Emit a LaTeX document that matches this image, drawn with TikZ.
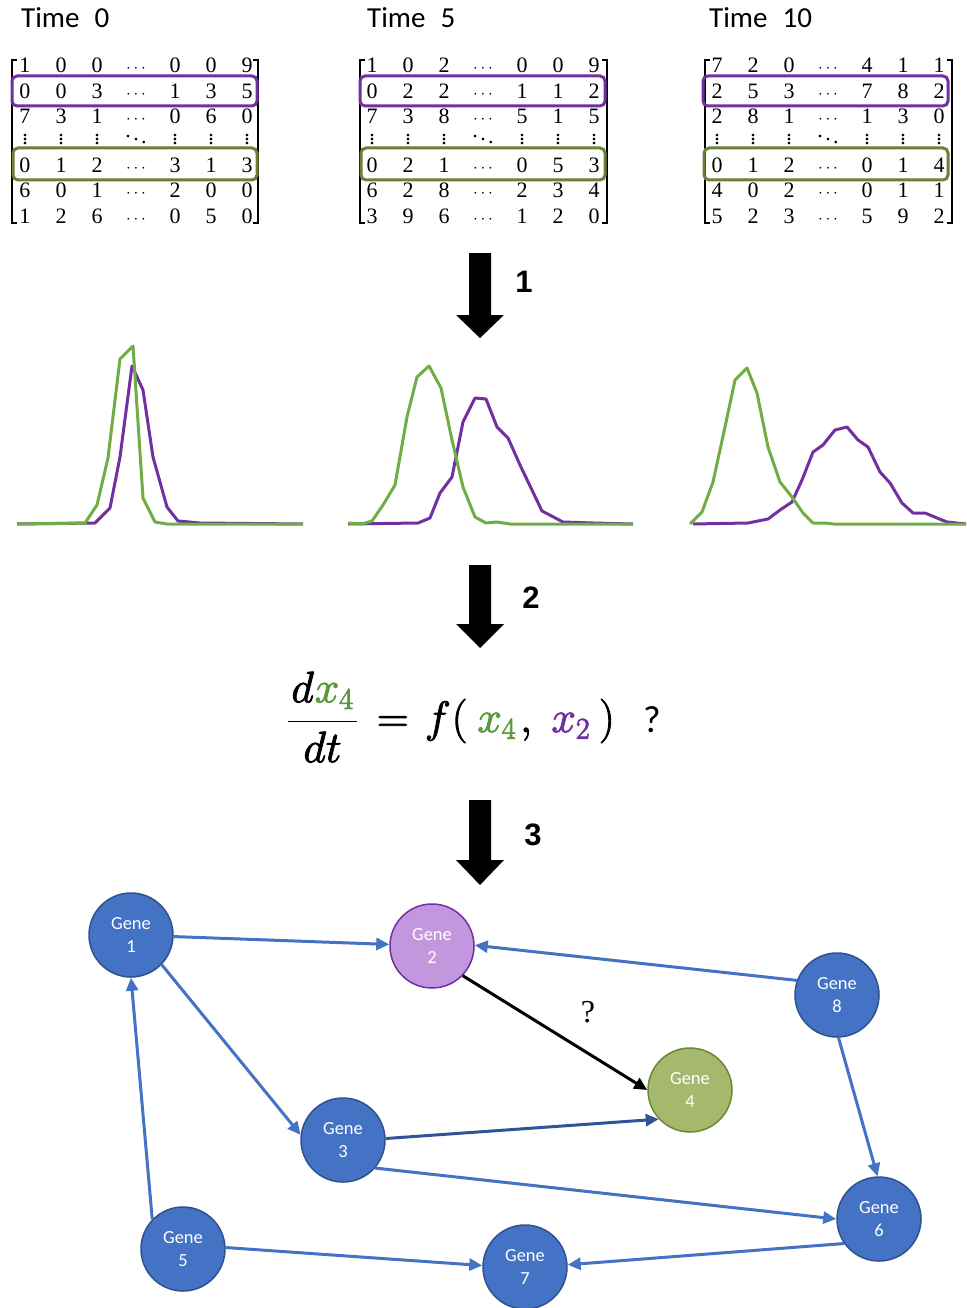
\RequirePackage{fix-cm}
\documentclass[tikz,border=0pt]{standalone}
\usepackage[no-math]{fontspec}
\setmainfont{Carlito}
\newfontfamily\numfont{Liberation Sans}
\newfontfamily\qfont{Liberation Serif}
\usetikzlibrary{arrows.meta}
\definecolor{mpurple}{HTML}{7030A0}
\definecolor{mgreen}{HTML}{70AD47}
\definecolor{boxgreen}{HTML}{6A7F38}
\definecolor{eqgreen}{HTML}{5A9A3C}
\definecolor{nodeblue}{HTML}{4472C4}
\definecolor{nodeborder}{HTML}{2F528F}
\definecolor{gtwofill}{HTML}{C397DD}
\definecolor{gfourfill}{HTML}{A5B86B}
\definecolor{gfourborder}{HTML}{6F8639}
\definecolor{edgedark}{HTML}{2F5597}
\newcommand\bsub[1]{\hbox{\fontsize{30}{30}\selectfont$#1$}}
\newcommand\thickon{\special{pdf:literal direct 2 Tr 0.9 w}}
\newcommand\thickoff{\special{pdf:literal direct 0 Tr 1 w}}
\newcommand\mrow[9]{%
 \node[dig] (#1a) at (#2,#3) {#4};
 \node[dig] (#1b) at ({#2+36},#3) {#5};
 \node[dig] (#1c) at ({#2+72},#3) {#6};
 \node[dig,font=\fontsize{17}{17}\selectfont] (#1d) at ({#2+111},#3) {$\cdots$};
 \node[dig] (#1e) at ({#2+150},#3) {#7};
 \node[dig] (#1f) at ({#2+186},#3) {#8};
 \node[dig] (#1g) at ({#2+222},#3) {#9};}
\newcommand\mdots[2]{%
 \node[dig] (#1a) at (#2,145) {$\smash{\vdots}$};
 \node[dig] (#1b) at ({#2+36},145) {$\smash{\vdots}$};
 \node[dig] (#1c) at ({#2+72},145) {$\smash{\vdots}$};
 \node[dig] (#1d) at ({#2+111},145) {$\smash{\ddots}$};
 \node[dig] (#1e) at ({#2+150},145) {$\smash{\vdots}$};
 \node[dig] (#1f) at ({#2+186},145) {$\smash{\vdots}$};
 \node[dig] (#1g) at ({#2+222},145) {$\smash{\vdots}$};}
\newcommand\brackets[2]{%
 \draw[brk] ({#1+5},60) -- (#1,60) -- (#1,223) -- ({#1+5},223);
 \draw[brk] ({#2-5},60) -- (#2,60) -- (#2,223) -- ({#2-5},223);}
\newcommand\blockarr[3]{%
 \fill (469,#1) -- (491,#1) -- (491,#2) -- (504,#2) -- (480,#3) -- (456,#2) -- (469,#2) -- cycle;}
\begin{document}
\begin{tikzpicture}[x=1pt,y=-1pt,
  dig/.style={inner sep=0pt,anchor=base,font=\qfont\fontsize{22}{22}\selectfont},
  brk/.style={line width=1.3pt},
  timelbl/.style={inner sep=0pt,anchor=base west,font=\fontsize{29}{29}\selectfont},
  pbox/.style={draw=mpurple,line width=3pt,rounded corners=5pt},
  gbox/.style={draw=boxgreen,line width=3pt,rounded corners=5pt},
  pcurve/.style={draw=mpurple,line width=3pt,line join=round},
  gcurve/.style={draw=mgreen,line width=3pt,line join=round},
  numlbl/.style={inner sep=0pt,font=\numfont\bfseries\fontsize{31}{31}\selectfont},
  gene/.style={circle,minimum size=84pt,inner sep=0pt,draw=nodeborder,line width=1.5pt,fill=nodeblue,text=white,align=center,font=\fontsize{18.5}{23}\selectfont},
  edge/.style={draw=nodeblue,line width=3pt,-{Triangle[length=13pt,width=12pt]}},
]
\useasboundingbox (0,0) rectangle (966,1308);
% ---------- titles
\node[timelbl] (t0) at (21,28) {Time\hspace{15pt}0};
\node[timelbl] (t5) at (367,28) {Time\hspace{15pt}5};
\node[timelbl] (t10) at (709,28) {Time\hspace{15pt}10};
% ---------- matrix 1
\mrow{ma1}{25}{73}{1}{0}{0}{0}{0}{9}
\mrow{ma2}{25}{99}{0}{0}{3}{1}{3}{5}
\mrow{ma3}{25}{124}{7}{3}{1}{0}{6}{0}
\mdots{ma4}{25}
\mrow{ma5}{25}{172}{0}{1}{2}{3}{1}{3}
\mrow{ma6}{25}{197}{6}{0}{1}{2}{0}{0}
\mrow{ma7}{25}{223}{1}{2}{6}{0}{5}{0}
\brackets{12}{258}
\draw[pbox] (12,76) rectangle (257,106);
\draw[gbox] (13,148) rectangle (257,180);
% ---------- matrix 2
\mrow{mb1}{372}{73}{1}{0}{2}{0}{0}{9}
\mrow{mb2}{372}{99}{0}{2}{2}{1}{1}{2}
\mrow{mb3}{372}{124}{7}{3}{8}{5}{1}{5}
\mdots{mb4}{372}
\mrow{mb5}{372}{172}{0}{2}{1}{0}{5}{3}
\mrow{mb6}{372}{197}{6}{2}{8}{2}{3}{4}
\mrow{mb7}{372}{223}{3}{9}{6}{1}{2}{0}
\brackets{360}{607}
\draw[pbox] (360,76) rectangle (605,106);
\draw[gbox] (361,148) rectangle (605,180);
% ---------- matrix 3
\mrow{mc1}{717}{73}{7}{2}{0}{4}{1}{1}
\mrow{mc2}{717}{99}{2}{5}{3}{7}{8}{2}
\mrow{mc3}{717}{124}{2}{8}{1}{1}{3}{0}
\mdots{mc4}{717}
\mrow{mc5}{717}{172}{0}{1}{2}{0}{1}{4}
\mrow{mc6}{717}{197}{4}{0}{2}{0}{1}{1}
\mrow{mc7}{717}{223}{5}{2}{3}{5}{9}{2}
\brackets{705}{952}
\draw[pbox] (703,76) rectangle (948,106);
\draw[gbox] (704,148) rectangle (948,180);
% ---------- block arrows
\blockarr{253}{315}{338}
\node[numlbl] (n1) at (524,282) {1};
\blockarr{565}{624}{648}
\node[numlbl] (n2) at (531,598) {2};
\blockarr{800}{860}{885}
\node[numlbl] (n3) at (533,835) {3};
% ---------- curves
\draw[pcurve] plot coordinates {(17,524) (95,523) (110,508) (120,457) (132,366) (143,390) (153,457) (167,507) (178,521) (200,523) (303,524)};
\draw[gcurve] plot coordinates {(17,524) (85,523) (97,505) (108,458) (120,359) (133,346) (143,498) (155,522) (167,524) (303,524)};
\draw[pcurve] plot coordinates {(348,524) (418,523) (430,518) (440,493) (452,477) (463,422) (475,398) (486,399) (497,427) (508,438) (520,465) (542,511) (563,522) (593,523) (633,524)};
\draw[gcurve] plot coordinates {(348,523) (362,524) (372,521) (383,505) (395,485) (407,417) (417,377) (429,366) (441,388) (452,440) (463,487) (475,517) (486,523) (497,522) (510,524) (633,524)};
\draw[pcurve] plot coordinates {(693,524) (748,523) (768,519) (780,510) (792,502) (802,480) (813,452) (823,445) (835,430) (847,427) (858,440) (868,447) (880,472) (890,483) (902,503) (913,513) (925,513) (937,518) (947,522) (966,524)};
\draw[gcurve] plot coordinates {(690,524) (702,512) (713,482) (725,427) (735,380) (747,368) (757,393) (768,447) (780,482) (792,497) (803,513) (813,523) (825,523) (833,524) (966,524)};
% ---------- equation
\node[inner sep=0pt,anchor=base west,font=\fontsize{44}{50}\selectfont] (eq) at (287,732)
 {\thickon$\displaystyle \frac{\kern3pt d\kern1pt{\color{eqgreen}x_{\bsub{4}}}\kern3pt}{dt}\kern7pt=\kern4pt f\kern1pt(\kern10pt{\color{eqgreen}x_{\bsub{4}}}\kern4pt,\kern12pt{\color{mpurple}x_{\bsub{2}}}\kern9pt)$\thickoff};
\node[inner sep=0pt,font=\fontsize{38}{38}\selectfont] (qm) at (652,720) {?};
% ---------- gene network
\node[gene] (g1) at (131,935) {Gene\\1};
\node[gene,fill=gtwofill,draw=mpurple] (g2) at (432,946) {Gene\\2};
\node[gene] (g3) at (343,1140) {Gene\\3};
\node[gene,fill=gfourfill,draw=gfourborder] (g4) at (690,1090) {Gene\\4};
\node[gene] (g5) at (183,1249) {Gene\\5};
\node[gene] (g6) at (879,1219) {Gene\\6};
\node[gene] (g7) at (525,1267) {Gene\\7};
\node[gene] (g8) at (837,995) {Gene\\8};
\draw[edge] (g1) -- (g2);
\draw[edge] (g1.-44) -- (g3.173);
\draw[edge] (g5.136) -- (g1.270);
\draw[edge] (g8.160) -- (g2.1);
\draw[edge] (g8.-88) -- (g6.92);
\draw[edge,draw=edgedark] (g3.2) -- (g4.223);
\draw[edge] (g3.-41) -- (g6.180);
\draw[edge] (g5.2) -- (g7.178);
\draw[edge] (g6.215) -- (g7.3);
\draw[edge,draw=black] (g2.-44) -- (g4.180);
\node[inner sep=0pt,font=\qfont\fontsize{32}{32}\selectfont] (q) at (588,1012) {?};
\end{tikzpicture}
\end{document}
